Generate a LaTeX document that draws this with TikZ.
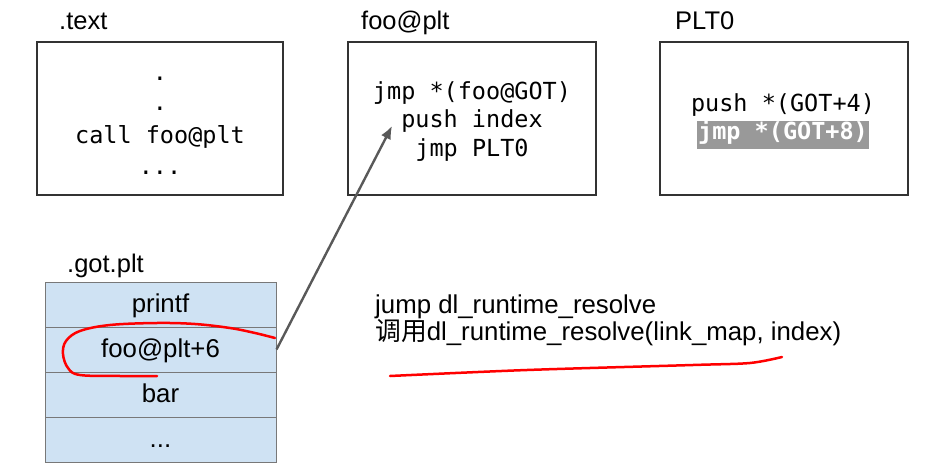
\documentclass[tikz,border=0pt]{standalone}
\usepackage{fontspec}
\setmainfont{Liberation Sans}
\setmonofont{DejaVu Sans Mono}
\newfontfamily\cjk{Noto Sans CJK SC}
\usetikzlibrary{arrows.meta}
\definecolor{gotblue}{RGB}{207,226,243}
\definecolor{rowline}{RGB}{120,120,120}
\definecolor{arrowgray}{RGB}{89,89,89}
\definecolor{hlgray}{RGB}{153,153,153}
\begin{document}
\begin{tikzpicture}[x=1pt,y=-1pt,
  box/.style={draw=black!80, line width=1.6pt},
  code/.style={font=\ttfamily\fontsize{23.5}{28}\selectfont, anchor=base, inner sep=0pt},
  lbl/.style={font=\fontsize{25.5}{30}\selectfont, anchor=base west, inner sep=0pt},
  txt/.style={font=\fontsize{25.8}{30}\selectfont, anchor=base west, inner sep=0pt},
  gotrow/.style={draw=rowline, fill=gotblue, line width=1pt, minimum width=231pt,
     minimum height=45pt, inner sep=0pt, text height=19pt, text depth=3pt,
     font=\fontsize{25.8}{30}\selectfont},
  redmark/.style={draw=red, line width=2.5pt, line cap=round, line join=round}]
\useasboundingbox (0,0) rectangle (945,465);

% .text
\node[lbl] (ltext) at (59,30) {.text};
\draw[box] (37,42) rectangle (283,195);
\node[code] (t1) at (160,81) {.};
\node[code] (t2) at (160,111) {.};
\node[code] (t3) at (160,144) {call foo@plt};
\node[code] (t4) at (160,175) {...};

% foo@plt
\node[lbl] (lplt) at (361,30) {foo@plt};
\draw[box] (348,42) rectangle (596,195);
\node[code] (p1) at (472,100) {jmp *(foo@GOT)};
\node[code] (p2) at (472,128) {push index};
\node[code] (p3) at (472,157) {jmp PLT0};

% PLT0
\node[lbl] (lplt0) at (675,30) {PLT0};
\draw[box] (660,42) rectangle (908,195);
\node[code] (q1) at (783,112) {push *(GOT+4)};
\node[code, fill=hlgray, text=white, font=\ttfamily\bfseries\fontsize{23.5}{28}\selectfont, inner xsep=1pt, text height=19pt, text depth=9pt] (q2) at (783,140) {jmp *(GOT+8)};

% .got.plt
\node[lbl] (lgot) at (67,272) {.got.plt};
\node[gotrow] (r1) at (160.5,304.5) {printf};
\node[gotrow] (r2) at (160.5,349.5) {foo@plt+6};
\node[gotrow] (r3) at (160.5,394.5) {bar};
\node[gotrow] (r4) at (160.5,439.5) {...};

% explanation
\node[txt] (e1) at (375,313) {jump dl\_runtime\_resolve};
\node[txt] (e2) at (375,340) {{\cjk 调用}dl\_runtime\_resolve(link\_map, index)};

% arrow
\coordinate (tip) at (392,126);
\draw[arrowgray, line width=2.4pt, -{Latex[length=13pt,width=11pt]}] (r2.east) -- (tip);

% red annotations
\draw[redmark] plot[smooth, tension=0.6] coordinates {(275,338) (255,333) (230,328) (195,324) (157,323) (110,325) (80,331) (66,341) (63,354) (68,368) (80,375) (120,376) (157,376)};
\draw[redmark] plot[smooth, tension=0.5] coordinates {(390,376) (527,370) (693,365) (750,363) (782,357)};
\end{tikzpicture}
\end{document}
